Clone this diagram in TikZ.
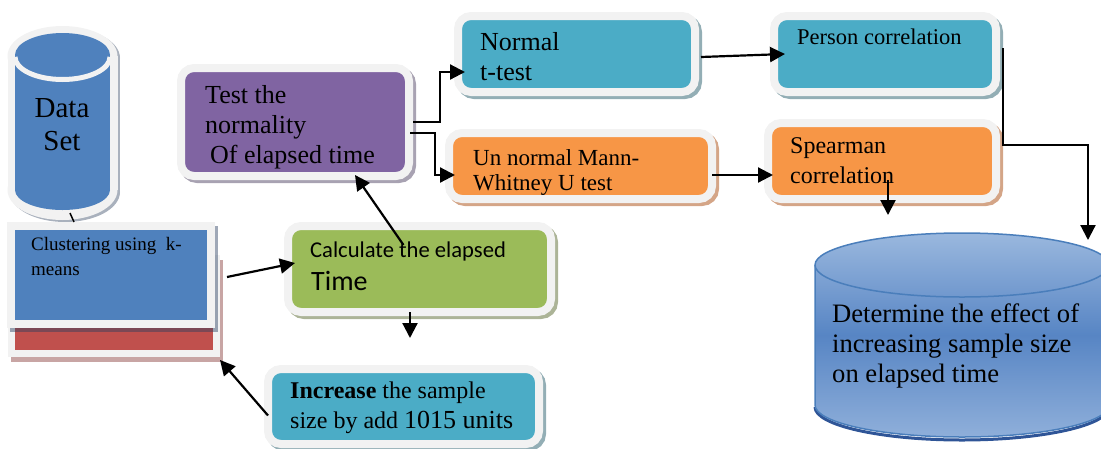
\documentclass[tikz,border=0pt]{standalone}
\usepackage{fontspec}
\setmainfont{Liberation Serif}
\newfontfamily\calibri{Carlito}
\usepackage{tikz}
\usetikzlibrary{positioning, arrows.meta, shadows, calc}
\usepackage{xcolor}

\definecolor{rim}{HTML}{F2F2F2}
\definecolor{dsblue}{HTML}{4F81BD}
\definecolor{dsred}{HTML}{C0504D}
\definecolor{purp}{HTML}{8064A2}
\definecolor{aqua}{HTML}{4BACC6}
\definecolor{orng}{HTML}{F79646}
\definecolor{grn}{HTML}{9BBB59}
\definecolor{shpurp}{HTML}{A8A2B2}
\definecolor{shaqua}{HTML}{93AEB5}
\definecolor{shorng}{HTML}{D4A587}
\definecolor{shgrn}{HTML}{ACB497}
\definecolor{shred}{HTML}{C8A5A4}
\definecolor{shblue}{HTML}{2A3F60}
\definecolor{shds}{HTML}{A9B1BD}
\definecolor{cyltop}{HTML}{9AB8DE}
\definecolor{cylmid}{HTML}{5785C4}
\definecolor{cylbot}{HTML}{8FAFDA}
\definecolor{cylline}{HTML}{4A7EBB}
\definecolor{cyldark}{HTML}{2F5597}

\newcommand{\fsz}[2]{\fontsize{#1}{#2}\selectfont}

\tikzset{
  rbox/.style={draw=rim, line width=8pt, rounded corners=13pt, inner sep=0pt, outer sep=0pt},
  sbox/.style={draw=rim, line width=#1, inner sep=0pt, outer sep=0pt},
  boxshadow/.style={drop shadow={shadow xshift=3pt, shadow yshift=-3pt, opacity=1, fill=#1, draw=#1, line width=8pt}},
  txt/.style={inner sep=0pt, anchor=base west, align=left},
  arr/.style={line width=2.2pt, -{Triangle[length=15pt,width=15pt]}},
}

\begin{document}
\begin{tikzpicture}[x=1pt, y=-1pt]
\clip (0,0) rectangle (1101,448);

% Data set cylinder
\fill[shds] (65,58) ellipse (55 and 30);
\fill[shds] (10,58) rectangle (120,192);
\fill[shds] (65,192) ellipse (55 and 30);
\fill[rim] (62.5,56) ellipse (55 and 30);
\fill[rim] (7.5,56) rectangle (117.5,190);
\fill[rim] (62.5,190) ellipse (55 and 30);
\fill[dsblue] (62.5,190) ellipse (47.5 and 20);
\fill[dsblue] (15,55) rectangle (110,190);
\fill[dsblue] (62.5,55) ellipse (47.5 and 22);
\draw[rim, line width=5pt] (15,57) arc (180:0:47.5 and 22.5);
\node[font=\fsz{29}{33}, align=center, inner sep=0pt, anchor=base] (data) at (62,150) {Data\\Set};
\coordinate (dsfoot) at (70,213);

% Clustering (two stacked sheets)
\node[sbox=7pt, fill=dsred, minimum width=205pt, minimum height=95pt,
      drop shadow={shadow xshift=3pt, shadow yshift=-5pt, opacity=1, fill=shred, draw=shred, line width=7pt}]
      (clustback) at (114,306) {};
\node[sbox=8pt, fill=dsblue, minimum width=200pt, minimum height=98pt,
      drop shadow={shadow xshift=3pt, shadow yshift=-4pt, opacity=.45, fill=shblue, draw=shblue, line width=8pt}]
      (clust) at (111,275) {};
\node[txt, font=\fsz{19}{25}] (clust-t) at (31,275) {Clustering using\ \ k-\\means};

% Test the normality
\node[rbox, fill=purp, boxshadow=shpurp, minimum width=228pt, minimum height=108pt] (test) at (295,122) {};
\node[txt, font=\fsz{26}{30}] (test-t) at (205,163) {Test the\\normality\\\hspace{5pt}Of elapsed time};

% Normal / Un normal tests
\node[rbox, fill=aqua, boxshadow=shaqua, minimum width=237pt, minimum height=76pt] (normal) at (576.5,54) {};
\node[txt, font=\fsz{26}{30}] (normal-t) at (480,80) {Normal\\t-test};
\node[rbox, fill=orng, boxshadow=shorng, minimum width=263pt, minimum height=66pt] (unnorm) at (580.5,166) {};
\node[txt, font=\fsz{23}{25}] (unnorm-t) at (473,190) {Un normal Mann-\\Whitney U test};

% Correlations
\node[rbox, fill=aqua, boxshadow=shaqua, minimum width=222pt, minimum height=76pt] (person) at (885,54) {};
\node[txt, font=\fsz{22.5}{26}] (person-t) at (797,44) {Person correlation};
\node[rbox, fill=orng, boxshadow=shorng, minimum width=228pt, minimum height=76pt] (spear) at (882,161) {};
\node[txt, font=\fsz{24}{30}] (spear-t) at (790,183) {Spearman\\correlation};

% Calculate the elapsed time
\node[rbox, fill=grn, boxshadow=shgrn, minimum width=263pt, minimum height=86pt] (calc) at (419.5,269) {};
\node[txt, font=\calibri\fsz{22.6}{26}] (calc-t) at (310,257) {Calculate the elapsed};
\node[txt, font=\calibri\fsz{28}{30}] (calc-t2) at (311,290) {Time};

% Increase the sample size
\node[rbox, fill=aqua, boxshadow=shaqua, minimum width=271pt, minimum height=75pt] (incr) at (403.5,406.5) {};
\node[txt, font=\fsz{24}{30}] (incr-t) at (290,428) {\textbf{Increase} the sample\\size by add {\fsz{26}{30}1015 units}};

% Effect cylinder
\draw[cyldark, line width=3pt] (815,407) arc (180:0:147 and 33);
\shade[top color=cyltop, bottom color=cylbot, middle color=cylmid]
  (815,265) -- (815,405) arc (180:0:147 and 32) -- (1109,265) arc (0:-180:147 and 32) -- cycle;
\draw[cylline, line width=1.5pt]
  (815,265) -- (815,405) arc (180:0:147 and 32) -- (1109,265) arc (0:-180:147 and 32) -- cycle;
\draw[cylline, line width=1.5pt] (815,265) arc (180:0:147 and 32);
\node[txt, font=\fsz{26.6}{30}] (effect) at (832,382) {Determine the effect of\\increasing sample size\\on elapsed time};
\coordinate (effin) at (1088,240);

% connectors
\draw[line width=1.5pt] (dsfoot) -- ([xshift=-37pt,yshift=4pt]clust.north);
\draw[arr] ([xshift=16pt,yshift=-2pt]clust.east) -- ([xshift=7pt,yshift=6pt]calc.west);
\draw[arr] ([xshift=-16pt,yshift=-19pt]calc.north) -- ([xshift=60pt,yshift=1pt]test.south);
\draw[arr] ([xshift=-9.5pt]calc.south) -- ++(0,26);
\draw[arr] ([yshift=-9pt]incr.west) -- ([xshift=3.5pt,yshift=-6.5pt]clustback.south east);
\draw[arr] ([xshift=4pt]test.east) -- ++(27,0) |- ([xshift=7pt,yshift=-18pt]normal.west);
\draw[arr] ([xshift=1pt,yshift=-11pt]test.east) -- ++(25,0) |- ([xshift=6pt,yshift=-9pt]unnorm.west);
\draw[arr] ([xshift=6pt,yshift=-3pt]normal.east) -- ([xshift=11pt]person.west);
\draw[arr] ([yshift=-9pt]unnorm.east) -- ([xshift=5pt,yshift=-14pt]spear.west);
\draw[arr] ([xshift=7pt,yshift=6pt]person.east) -- ++(0,97) -| (effin);
\draw[arr] ([xshift=6pt,yshift=19pt]spear.south) -- ++(0,35);
\end{tikzpicture}
\end{document}
